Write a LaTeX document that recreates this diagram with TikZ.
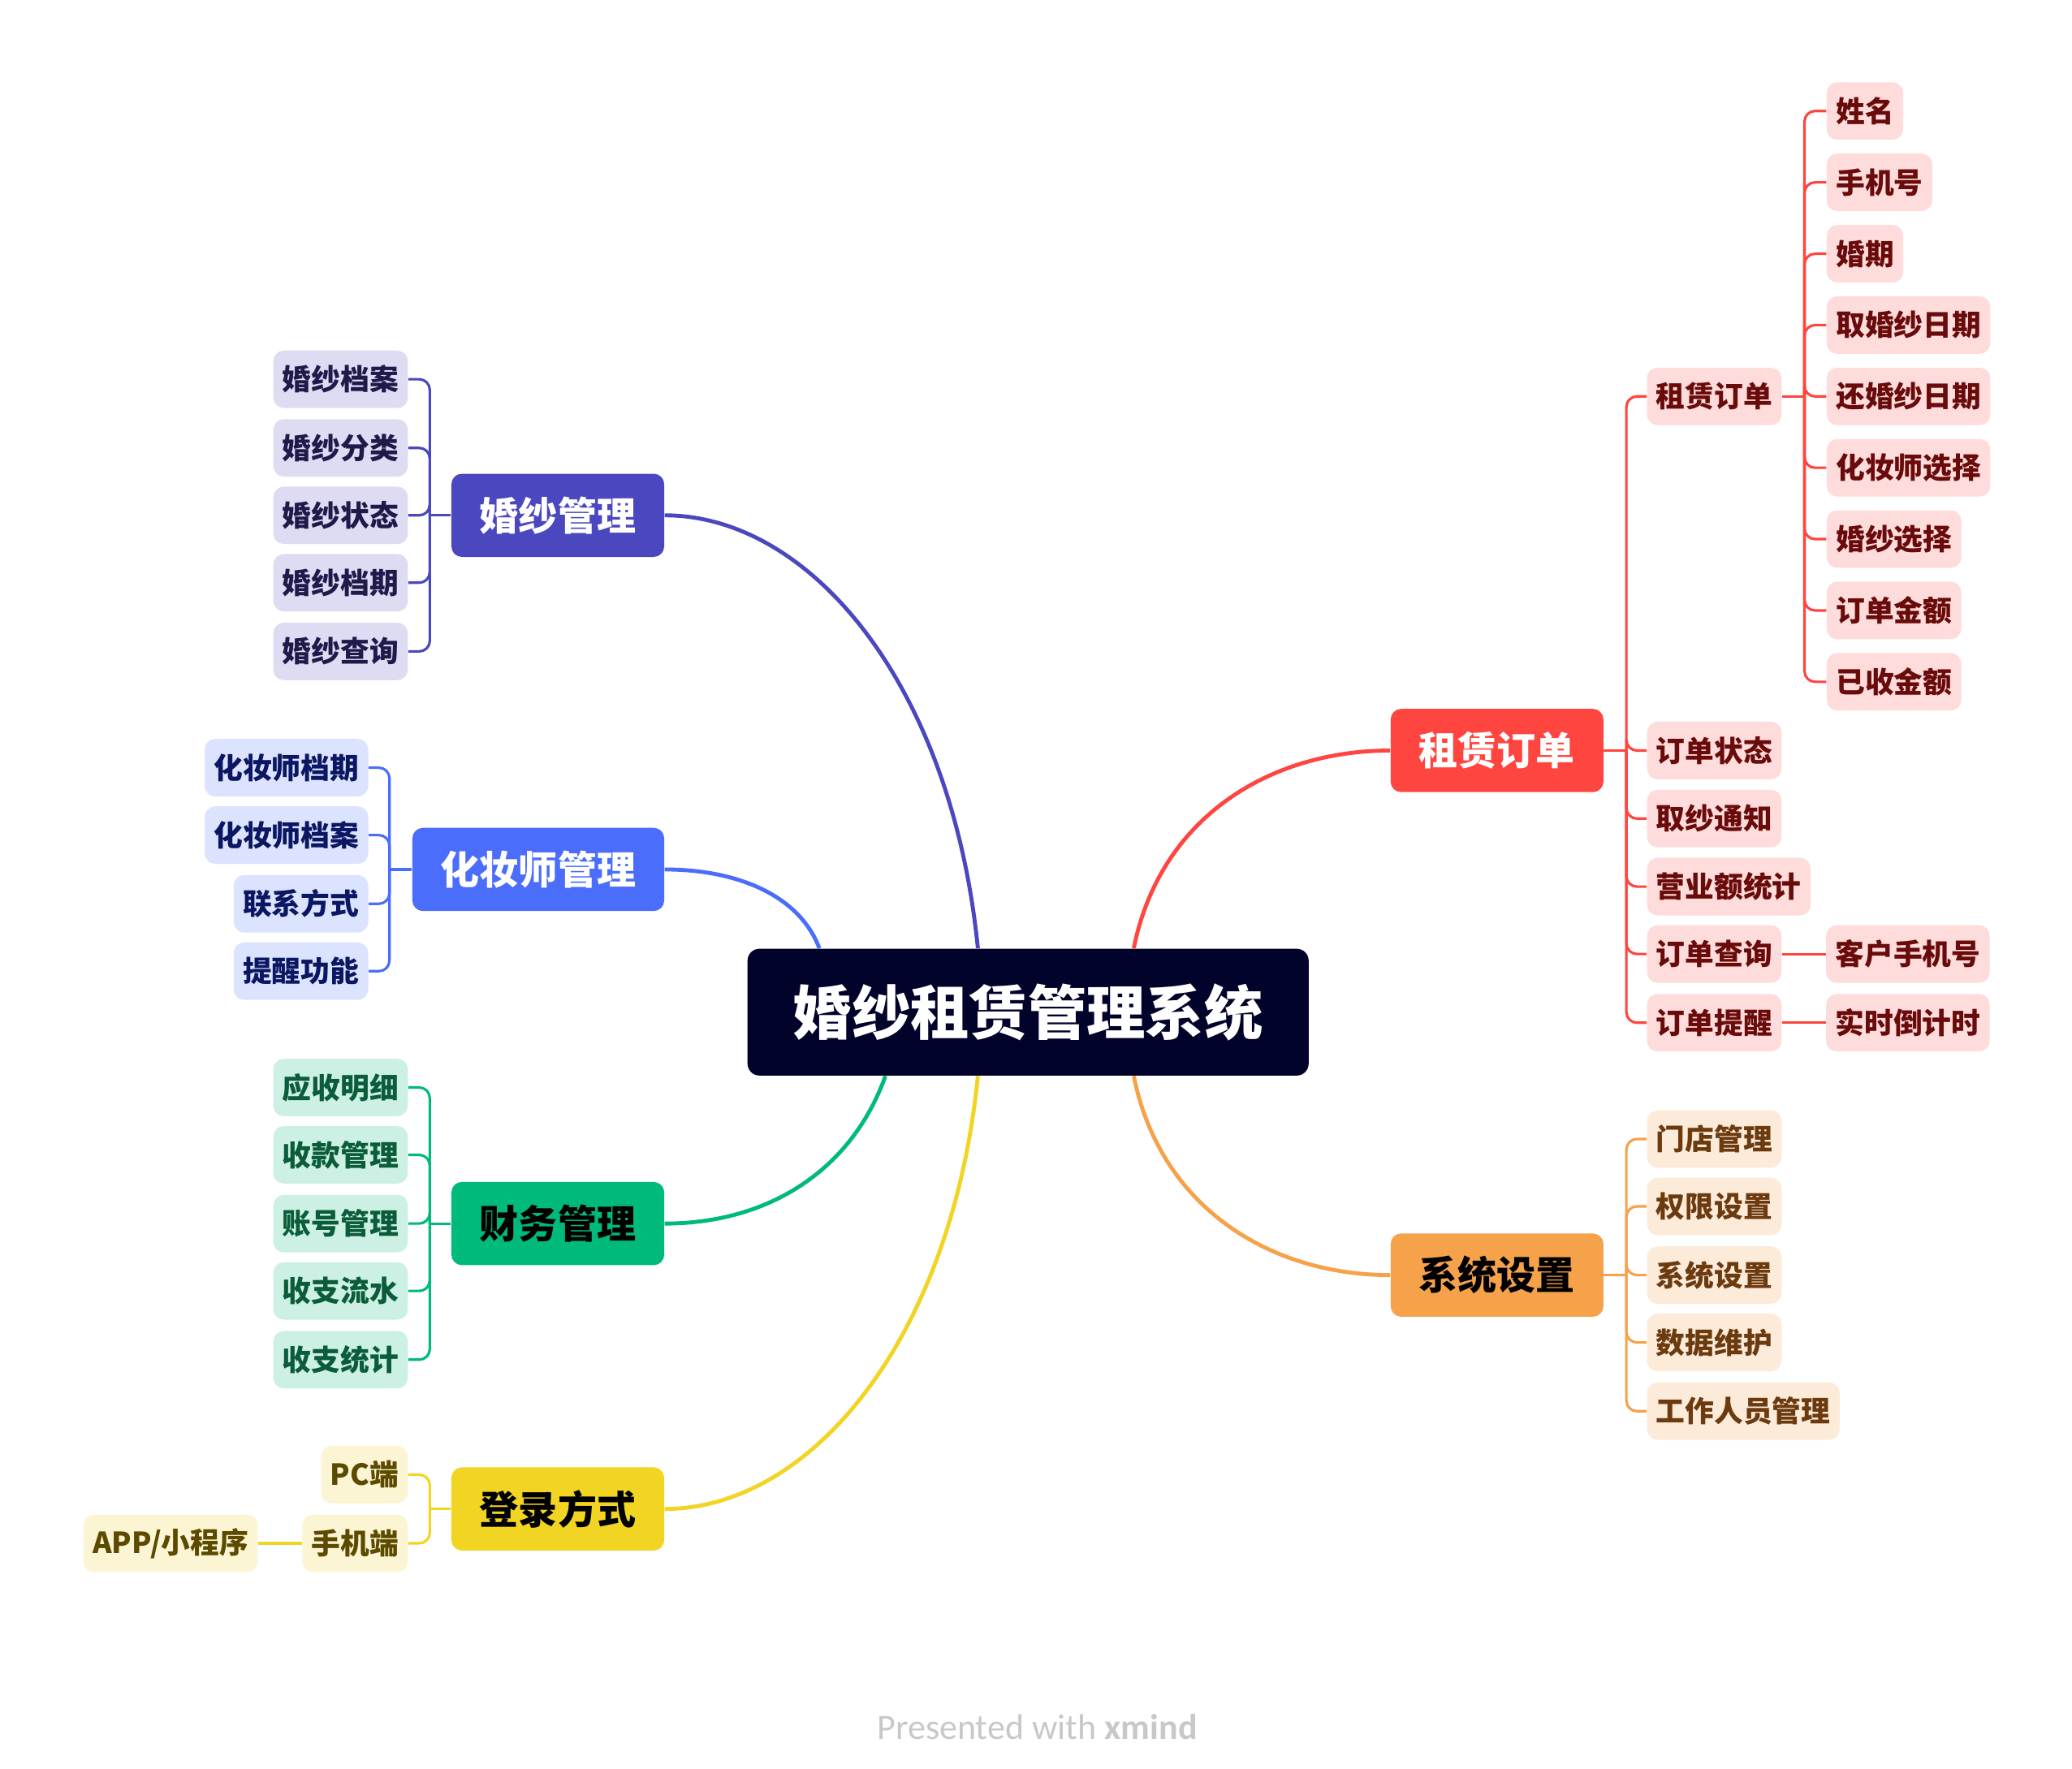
\documentclass[tikz,border=0pt]{standalone}
\usepackage{fontspec}
\setmainfont{Noto Sans CJK SC}
\newfontfamily\footfont{Carlito}
\usepackage{xcolor}
\usepackage{tikz}
\usetikzlibrary{positioning}

\definecolor{rootbg}{HTML}{01032A}
\definecolor{dress}{HTML}{4B48BF}
\definecolor{dressbg}{HTML}{DEDCF3}
\definecolor{dresstx}{HTML}{1E1B4B}
\definecolor{artist}{HTML}{4A6DFB}
\definecolor{artistbg}{HTML}{DCE3FE}
\definecolor{artisttx}{HTML}{0B1763}
\definecolor{money}{HTML}{00BA7B}
\definecolor{moneybg}{HTML}{CCF0E3}
\definecolor{moneytx}{HTML}{0A5C3A}
\definecolor{login}{HTML}{F2D422}
\definecolor{loginbg}{HTML}{FCF5D4}
\definecolor{logintx}{HTML}{5C4A00}
\definecolor{order}{HTML}{FF453F}
\definecolor{orderbg}{HTML}{FDDCDB}
\definecolor{ordertx}{HTML}{6A0B0B}
\definecolor{setup}{HTML}{F5A24B}
\definecolor{setupbg}{HTML}{FDEBDA}
\definecolor{setuptx}{HTML}{6B3A0F}
\definecolor{credit}{HTML}{C8C8C8}

\begin{document}
\begin{tikzpicture}[x=0.02cm, y=-0.02cm,
    root/.style={rounded corners=0.18cm, fill=rootbg, text=white, font=\fontsize{25.3}{30}\selectfont\bfseries, inner xsep=0.69cm, inner ysep=0pt, minimum height=1.92cm},
    topic/.style={rounded corners=0.16cm, fill=#1, font=\fontsize{16.8}{20}\selectfont\bfseries, inner xsep=0.43cm, inner ysep=0pt, minimum height=1.26cm},
    leaf/.style={rounded corners=0.16cm, fill=#1bg, text=#1tx, font=\fontsize{12.5}{15}\selectfont\bfseries, inner xsep=0.14cm, inner ysep=0pt, minimum height=0.87cm},
    branch/.style={draw=#1, line width=1.7pt},
    link/.style={draw=#1, line width=1.1pt, rounded corners=0.16cm}]
    \path[fill=white] (0,0) rectangle (1568,1338.2);

    % centre and main topics
    \node[root] (root) at (778,766) {婚纱租赁管理系统};
    \node[topic=dress, text=white, anchor=east] (dress) at (503,390) {婚纱管理};
    \node[topic=artist, text=white, anchor=east] (artist) at (503,658) {化妆师管理};
    \node[topic=money, text=black, anchor=east] (money) at (503,926) {财务管理};
    \node[topic=login, text=black, anchor=east] (login) at (503,1142) {登录方式};
    \node[topic=order, text=white, anchor=west] (order) at (1052,568) {租赁订单};
    \node[topic=setup, text=black, anchor=west] (setup) at (1052,965) {系统设置};

    % 婚纱管理
    \node[leaf=dress, anchor=east] (d1) at (309,287) {婚纱档案};
    \node[leaf=dress, anchor=east] (d2) at (309,339) {婚纱分类};
    \node[leaf=dress, anchor=east] (d3) at (309,390) {婚纱状态};
    \node[leaf=dress, anchor=east] (d4) at (309,441) {婚纱档期};
    \node[leaf=dress, anchor=east] (d5) at (309,493) {婚纱查询};

    % 化妆师管理
    \node[leaf=artist, anchor=east] (a1) at (279,581) {化妆师档期};
    \node[leaf=artist, anchor=east] (a2) at (279,632) {化妆师档案};
    \node[leaf=artist, anchor=east] (a3) at (279,684) {联系方式};
    \node[leaf=artist, anchor=east] (a4) at (279,735) {提醒功能};

    % 财务管理
    \node[leaf=money, anchor=east] (m1) at (309,823) {应收明细};
    \node[leaf=money, anchor=east] (m2) at (309,874) {收款管理};
    \node[leaf=money, anchor=east] (m3) at (309,926) {账号管理};
    \node[leaf=money, anchor=east] (m4) at (309,977) {收支流水};
    \node[leaf=money, anchor=east] (m5) at (309,1029) {收支统计};

    % 登录方式
    \node[leaf=login, anchor=east] (l1) at (309,1116) {PC端};
    \node[leaf=login, anchor=east] (l2) at (309,1168) {手机端};
    \node[leaf=login, left=0.66cm of l2] (l2a) {APP/小程序};

    % 租赁订单
    \node[leaf=order, anchor=west] (o1) at (1246,300) {租赁订单};
    \node[leaf=order, anchor=west] (o2) at (1246,568) {订单状态};
    \node[leaf=order, anchor=west] (o3) at (1246,619.5) {取纱通知};
    \node[leaf=order, anchor=west] (o4) at (1246,671) {营业额统计};
    \node[leaf=order, anchor=west] (o5) at (1246,722) {订单查询};
    \node[leaf=order, anchor=west] (o6) at (1246,774) {订单提醒};
    \node[leaf=order, right=0.66cm of o5] (o5a) {客户手机号};
    \node[leaf=order, right=0.66cm of o6] (o6a) {实时倒计时};
    \node[leaf=order, anchor=west] (o1a) at (1382,84) {姓名};
    \node[leaf=order, anchor=west] (o1b) at (1382,138) {手机号};
    \node[leaf=order, anchor=west] (o1c) at (1382,192) {婚期};
    \node[leaf=order, anchor=west] (o1d) at (1382,246) {取婚纱日期};
    \node[leaf=order, anchor=west] (o1e) at (1382,300) {还婚纱日期};
    \node[leaf=order, anchor=west] (o1f) at (1382,354) {化妆师选择};
    \node[leaf=order, anchor=west] (o1g) at (1382,408) {婚纱选择};
    \node[leaf=order, anchor=west] (o1h) at (1382,462) {订单金额};
    \node[leaf=order, anchor=west] (o1i) at (1382,516) {已收金额};

    % 系统设置
    \node[leaf=setup, anchor=west] (s1) at (1246,862) {门店管理};
    \node[leaf=setup, anchor=west] (s2) at (1246,913) {权限设置};
    \node[leaf=setup, anchor=west] (s3) at (1246,965) {系统设置};
    \node[leaf=setup, anchor=west] (s4) at (1246,1016) {数据维护};
    \node[leaf=setup, anchor=west] (s5) at (1246,1068) {工作人员管理};

    % branches from the centre
    \draw[branch=dress] ([xshift=-0.76cm]root.north) .. controls +(-20,-200) and +(110,0) .. (dress.east);
    \draw[branch=artist] ([xshift=-3.16cm]root.north) .. controls +(-15,-40) and +(55,0) .. (artist.east);
    \draw[branch=money] ([xshift=-2.16cm]root.south) .. controls +(-25,70) and +(80,0) .. (money.east);
    \draw[branch=login] ([xshift=-0.76cm]root.south) .. controls +(-20,200) and +(110,0) .. (login.east);
    \draw[branch=order] ([xshift=1.6cm]root.north) .. controls +(20,-100) and +(-90,0) .. (order.west);
    \draw[branch=setup] ([xshift=1.6cm]root.south) .. controls +(20,100) and +(-90,0) .. (setup.west);

    % sub branches
    \draw[link=dress] (dress.west) -- ++(-16,0) coordinate (dbus);
    \draw[link=dress] (dbus) |- (d1.east);
    \draw[link=dress] (dbus) |- (d2.east);
    \draw[link=dress] (dbus) |- (d3.east);
    \draw[link=dress] (dbus) |- (d4.east);
    \draw[link=dress] (dbus) |- (d5.east);

    \draw[link=artist] (artist.west) -- ++(-17,0) coordinate (abus);
    \draw[link=artist] (abus) |- (a1.east);
    \draw[link=artist] (abus) |- (a2.east);
    \draw[link=artist] (abus) |- (a3.east);
    \draw[link=artist] (abus) |- (a4.east);

    \draw[link=money] (money.west) -- ++(-16,0) coordinate (mbus);
    \draw[link=money] (mbus) |- (m1.east);
    \draw[link=money] (mbus) |- (m2.east);
    \draw[link=money] (mbus) |- (m3.east);
    \draw[link=money] (mbus) |- (m4.east);
    \draw[link=money] (mbus) |- (m5.east);

    \draw[link=login] (login.west) -- ++(-16,0) coordinate (lbus);
    \draw[link=login] (lbus) |- (l1.east);
    \draw[link=login] (lbus) |- (l2.east);
    \draw[link=login] (l2) -- (l2a);

    \draw[link=order] (order.east) -- ++(17,0) coordinate (obus);
    \draw[link=order] (obus) |- (o1.west);
    \draw[link=order] (obus) |- (o2.west);
    \draw[link=order] (obus) |- (o3.west);
    \draw[link=order] (obus) |- (o4.west);
    \draw[link=order] (obus) |- (o5.west);
    \draw[link=order] (obus) |- (o6.west);
    \draw[link=order] (o5) -- (o5a);
    \draw[link=order] (o6) -- (o6a);
    \draw[link=order] (o1.east) -- ++(17,0) coordinate (o1bus);
    \draw[link=order] (o1bus) |- (o1a.west);
    \draw[link=order] (o1bus) |- (o1b.west);
    \draw[link=order] (o1bus) |- (o1c.west);
    \draw[link=order] (o1bus) |- (o1d.west);
    \draw[link=order] (o1bus) |- (o1e.west);
    \draw[link=order] (o1bus) |- (o1f.west);
    \draw[link=order] (o1bus) |- (o1g.west);
    \draw[link=order] (o1bus) |- (o1h.west);
    \draw[link=order] (o1bus) |- (o1i.west);

    \draw[link=setup] (setup.east) -- ++(17,0) coordinate (sbus);
    \draw[link=setup] (sbus) |- (s1.west);
    \draw[link=setup] (sbus) |- (s2.west);
    \draw[link=setup] (sbus) |- (s3.west);
    \draw[link=setup] (sbus) |- (s4.west);
    \draw[link=setup] (sbus) |- (s5.west);

    \node[text=credit, font=\footfont\fontsize{15.4}{18}\selectfont] (credit) at (785,1307) {Presented with \textbf{xmind}};
\end{tikzpicture}
\end{document}
